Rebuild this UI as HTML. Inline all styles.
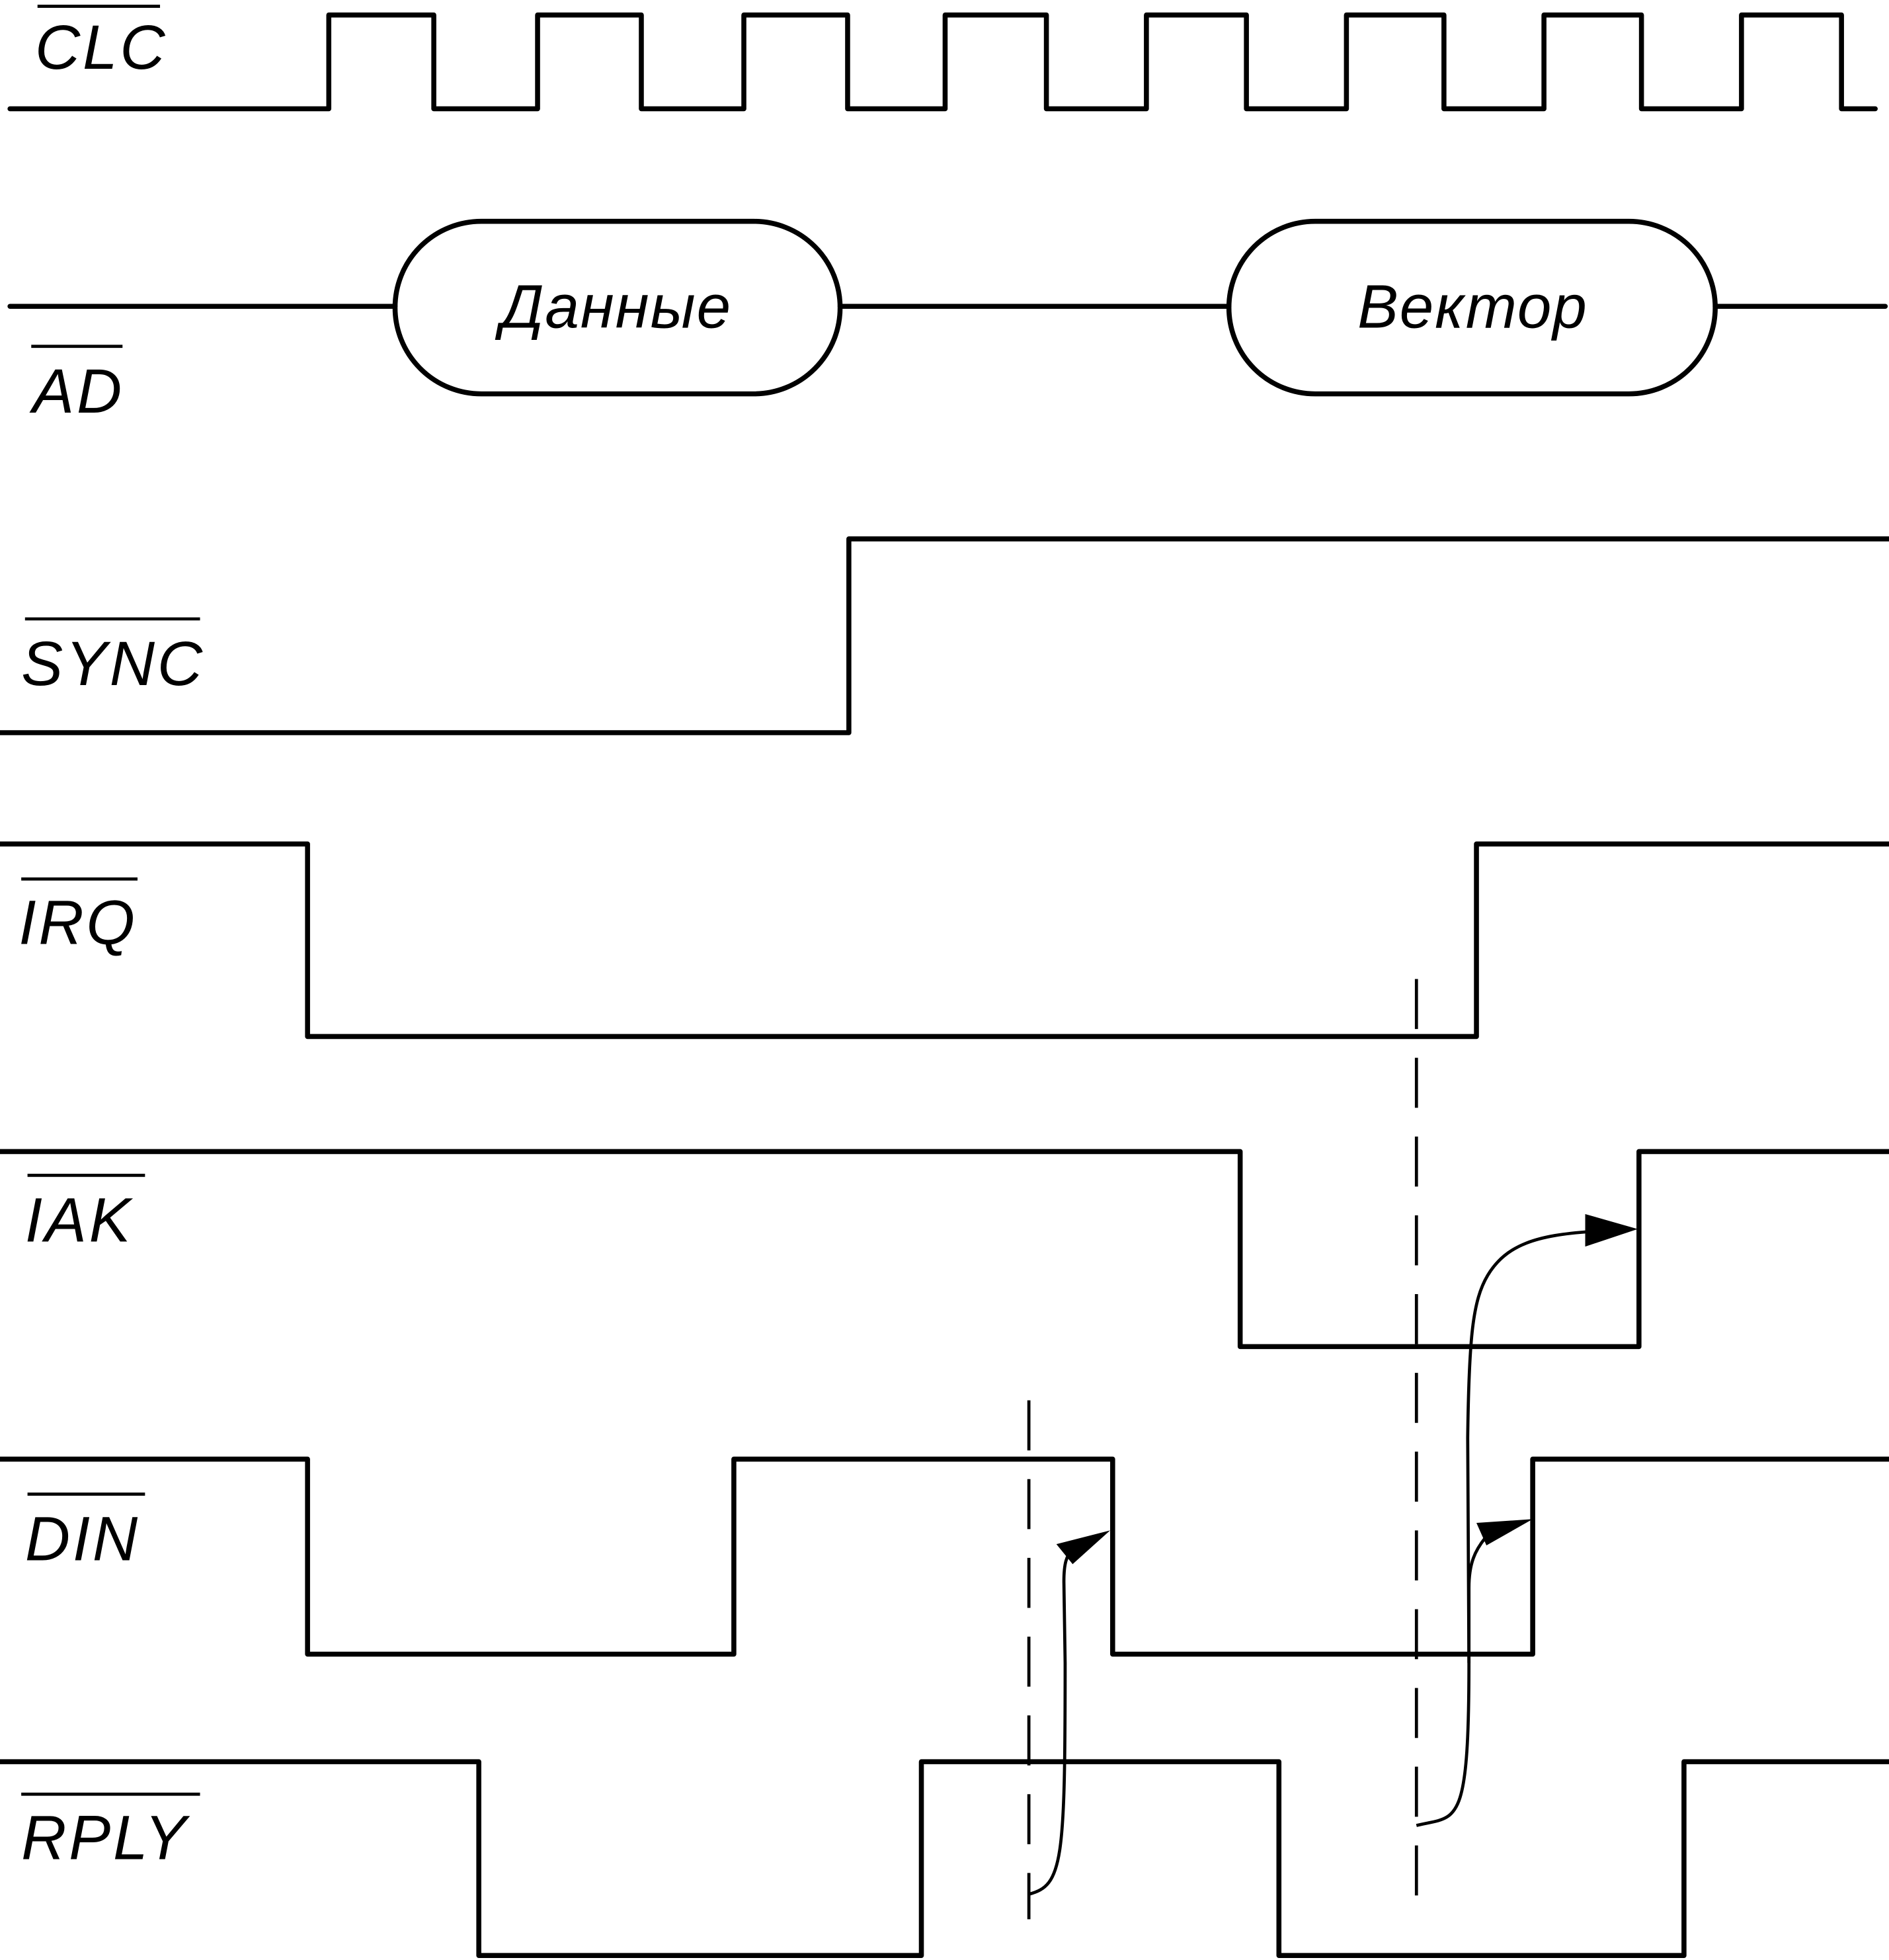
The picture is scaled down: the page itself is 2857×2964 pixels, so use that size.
<!DOCTYPE html>
<html><head><meta charset="utf-8"><style>
html,body{margin:0;padding:0;background:#fff}
svg{display:block}
text{font-family:"Liberation Sans",sans-serif;font-style:italic;fill:#000}
</style></head><body>
<svg width="2857" height="2964" viewBox="0 0 1511 1567.6" preserveAspectRatio="none" xmlns="http://www.w3.org/2000/svg">
<g fill="none" stroke="#000" stroke-width="4" stroke-linejoin="round" stroke-linecap="round">
<polyline points="8,87 263,87 263,12 347,12 347,87 430,87 430,12 513,12 513,87 595,87 595,12 678,12 678,87 756,87 756,12 837,12 837,87 917,87 917,12 997,12 997,87 1077,87 1077,12 1155,12 1155,87 1235,87 1235,12 1313,12 1313,87 1393,87 1393,12 1473,12 1473,87 1500,87"/>
<line x1="8" y1="245" x2="316" y2="245"/>
<rect x="316" y="177" width="356" height="138" rx="69" ry="69"/>
<line x1="672" y1="245" x2="983" y2="245"/>
<rect x="983" y="177" width="389" height="138" rx="69" ry="69"/>
<line x1="1372" y1="245" x2="1508" y2="245"/>
<polyline points="0,586 679,586 679,431 1511,431"/>
<polyline points="0,675 246,675 246,829 1181,829 1181,675 1511,675"/>
<polyline points="0,921 992,921 992,1077 1311,1077 1311,921 1511,921"/>
<polyline points="0,1167 246,1167 246,1323 587,1323 587,1167 890,1167 890,1323 1226,1323 1226,1167 1511,1167"/>
<polyline points="0,1409 383,1409 383,1564 737,1564 737,1409 1023,1409 1023,1564 1347,1564 1347,1409 1511,1409"/>
</g>
<g stroke="#000" stroke-width="2.5" fill="none">
<line x1="1133" y1="783" x2="1133" y2="1525" stroke-dasharray="40,23"/>
<line x1="823" y1="1120" x2="823" y2="1535" stroke-dasharray="40,23"/>
<path d="M823,1515 C850,1508 852,1490 852,1330 L851,1265 C851,1250 853,1245 858,1238"/>
<path d="M1133,1460 C1165,1452 1175,1465 1175,1330 L1175,1270 C1175,1250 1180,1240 1188,1230"/>
<path d="M1175,1330 L1174,1150 C1175,1070 1178,1040 1190,1020 C1205,995 1230,988 1272,985"/>
</g>
<g fill="#000">
<polygon points="888,1224 845,1235 858,1251"/>
<polygon points="1226,1215 1181,1218 1189,1236"/>
<polygon points="1310,983 1268,971 1268,997"/>
</g>
<g font-size="50" letter-spacing="2">
<text x="28" y="55">CLC</text>
<text x="26" y="330">AD</text>
<text x="17" y="548">SYNC</text>
<text x="15" y="755">IRQ</text>
<text x="20" y="993">IAK</text>
<text x="20" y="1248">DIN</text>
<text x="17" y="1487">RPLY</text>
</g>
<g font-size="49" letter-spacing="1">
<text x="493" y="262" text-anchor="middle">Данные</text>
<text x="1178" y="262" text-anchor="middle">Вектор</text>
</g>
<g stroke="#000" stroke-width="2.5">
<line x1="30" y1="5" x2="128" y2="5"/>
<line x1="25" y1="277" x2="98" y2="277"/>
<line x1="20" y1="495" x2="160" y2="495"/>
<line x1="17" y1="703" x2="110" y2="703"/>
<line x1="22" y1="940" x2="116" y2="940"/>
<line x1="22" y1="1195" x2="116" y2="1195"/>
<line x1="17" y1="1435" x2="160" y2="1435"/>
</g>
</svg>
</body></html>
